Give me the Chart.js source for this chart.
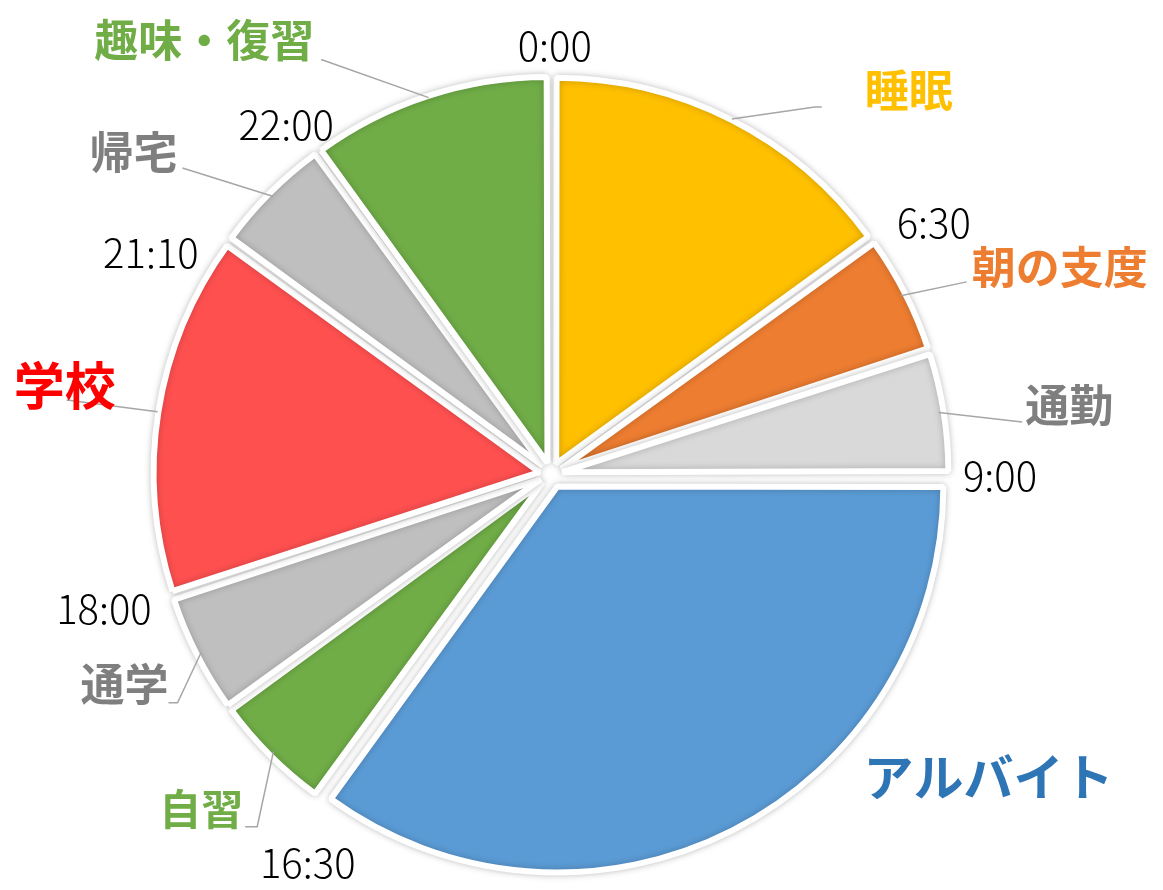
<!DOCTYPE html>
<html lang="ja">
<head>
<meta charset="utf-8">
<title>一日のスケジュール</title>
<script src="https://cdn.jsdelivr.net/npm/chart.js@4.4.1/dist/chart.umd.min.js"></script>
<style>
  html, body { margin: 0; padding: 0; background: #fff; }
  #wrap { width: 1163px; height: 890px; position: relative; }
</style>
</head>
<body>
<div id="wrap"><canvas id="pie"></canvas></div>
<script>
// データ（円グラフの比率は画像から読み取り）
const categories = ['睡眠', '朝の支度', '通勤', 'アルバイト', '自習', '通学', '学校', '帰宅', '趣味・復習'];
const shares = [15, 5, 5, 35, 5, 5, 15, 5, 10];
// 各スライスの開始時刻（空文字は表示しない）
const startTimes = ['0:00', '6:30', '', '9:00', '16:30', '', '18:00', '21:10', '22:00'];

// 色
const sliceColors = ['#FFC000', '#ED7D31', '#D9D9D9', '#5B9BD5', '#70AD47', '#BFBFBF', '#FF5050', '#BFBFBF', '#70AD47'];
const labelColors = ['#FFC000', '#ED7D31', '#7F7F7F', '#2E75B6', '#70AD47', '#7F7F7F', '#FF0000', '#7F7F7F', '#70AD47'];

// レイアウト（ラベル位置：上から時計回りの角度[度]、中心からの距離[px]）
const labelPolar = [[35.7, 452], [65.2, 458], [83.7, 474], [124.7, 532], [219.8, 459], [238.5, 438], [278.7, 490], [309.7, 479], [331.0, 474]];
// アンカーから文字までのずれ [dx, dy, 揃え]、引き出し線の水平フック
const labelShift = [[50, -17, 'left'], [5, -15, 'left'], [3, -17, 'left'], [0, 0, 'center'], [-14, -18, 'right'], [-9, -19, 'right'], [-2, -14, 'center'], [-5, -16, 'right'], [-7, -19, 'right']];
const hooks = [7, 0, 0, 0, -12, -9, 0, 0, 0];
const hasLeader = [true, true, true, false, true, true, true, true, true];
const labelSizes = [44, 44, 44, 50, 42, 44, 51, 44, 44];
// 時刻ラベル：境界角度からのずれ[度]、距離[px]
const timeNudge = [0.5, 2.7, 0, 0.2, -4, 0, 1.2, -7.1, -1.2];
const timeDist = [428, 458, 0, 449, 459, 0, 467, 457, 438];
const explode = [46, 46, 46, 56, 46, 46, 46, 46, 46];

const FONT = '"Noto Sans CJK JP", "Noto Sans", sans-serif';
const BORDER = 6;

function polar(cx, cy, deg, r) {
    const a = deg * Math.PI / 180 - Math.PI / 2;
    return [cx + Math.cos(a) * r, cy + Math.sin(a) * r];
}

const pieDecor = {
    id: 'pieDecor',
    beforeDatasetsDraw(chart) {
        const meta = chart.getDatasetMeta(0);
        const base = meta.controller.outerRadius;
        // offset を使うと小さいスライスほど半径が大きくなるので補正
        meta.data.forEach(arc => {
            const off = (arc.options.offset || 0) / 4;
            const circ = arc.endAngle - arc.startAngle;
            const fix = 1 - Math.sin(Math.min(Math.PI, circ));
            arc.outerRadius = base - off * fix;
        });
        const ctx = chart.ctx;
        ctx.save();
        ctx.shadowColor = 'rgba(0, 0, 0, 0.22)';
        ctx.shadowBlur = 7;
    },
    afterDatasetsDraw(chart) {
        const ctx = chart.ctx;
        ctx.restore();
        const meta = chart.getDatasetMeta(0);
        const area = chart.chartArea;
        const cx = (area.left + area.right) / 2;
        const cy = (area.top + area.bottom) / 2;

        // 引き出し線
        ctx.save();
        ctx.strokeStyle = '#A6A6A6';
        ctx.lineWidth = 1.5;
        meta.data.forEach((arc, i) => {
            if (!hasLeader[i]) return;
            const mid = (arc.startAngle + arc.endAngle) / 2;
            const off = (arc.options.offset || 0) / 4;
            const r = arc.outerRadius + BORDER / 2 + off;
            const sx = arc.x + Math.cos(mid) * r;
            const sy = arc.y + Math.sin(mid) * r;
            const [ex, ey] = polar(cx, cy, labelPolar[i][0], labelPolar[i][1]);
            ctx.beginPath();
            ctx.moveTo(sx, sy);
            ctx.lineTo(ex, ey);
            if (hooks[i]) ctx.lineTo(ex + hooks[i], ey);
            ctx.stroke();
        });
        ctx.restore();

        // 項目ラベル
        ctx.save();
        ctx.textBaseline = 'middle';
        categories.forEach((name, i) => {
            const [ax, ay] = polar(cx, cy, labelPolar[i][0], labelPolar[i][1]);
            const [dx, dy, align] = labelShift[i];
            ctx.font = 'bold ' + labelSizes[i] + 'px ' + FONT;
            ctx.fillStyle = labelColors[i];
            ctx.textAlign = align;
            ctx.fillText(name, ax + dx, ay + dy);
        });

        // 時刻ラベル（スライスの開始角度に配置）
        ctx.font = '300 40px ' + FONT;
        ctx.fillStyle = '#000';
        ctx.textAlign = 'center';
        meta.data.forEach((arc, i) => {
            if (!startTimes[i]) return;
            const deg = (arc.startAngle + Math.PI / 2) * 180 / Math.PI + timeNudge[i];
            const [tx, ty] = polar(cx, cy, deg, timeDist[i]);
            ctx.fillText(startTimes[i], tx, ty);
        });
        ctx.restore();
    }
};

function draw() {
    new Chart(document.getElementById('pie'), {
        type: 'pie',
        data: {
            labels: categories,
            datasets: [{
                data: shares,
                backgroundColor: sliceColors,
                borderColor: '#ffffff',
                borderWidth: BORDER,
                offset: explode,
                radius: 386
            }]
        },
        options: {
            responsive: true,
            maintainAspectRatio: false,
            animation: false,
            events: [],
            layout: { padding: { left: 151, right: 212, top: 74, bottom: 16 } },
            plugins: {
                legend: { display: false },
                tooltip: { enabled: false }
            }
        },
        plugins: [pieDecor]
    });
}

Promise.all([
    document.fonts.load('bold 44px "Noto Sans CJK JP"', '睡眠アルバイト'),
    document.fonts.load('300 40px "Noto Sans CJK JP"', '0:00')
]).then(draw, draw);
</script>
</body>
</html>
